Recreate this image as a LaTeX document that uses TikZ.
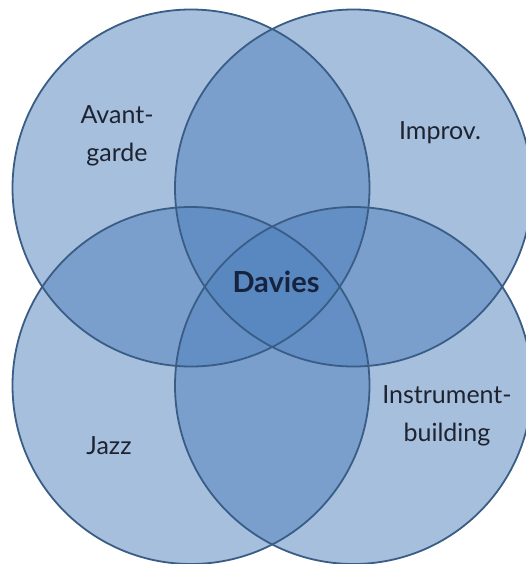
\documentclass[tikz,border=0pt]{standalone}
\usepackage{fontspec}
\setmainfont{Lato}
\definecolor{vennfill}{HTML}{4F81BD}
\definecolor{vennline}{HTML}{3A5D86}
\definecolor{labeltext}{HTML}{1E2330}
\definecolor{centertext}{HTML}{16233F}
\begin{document}
\begin{tikzpicture}[x=1pt,y=-1pt,
  vennset/.style={circle,inner sep=0pt,minimum size=357pt,fill=vennfill,fill opacity=0.5},
  vennedge/.style={draw=vennline,line width=1.8pt},
  setlabel/.style={text=labeltext,align=center,font=\fontsize{25}{38}\selectfont,inner sep=0pt},
  corelabel/.style={text=centertext,font=\fontsize{29}{34}\selectfont\bfseries,inner sep=0pt}]
\useasboundingbox (0,0) rectangle (525,564);
\fill[white] (0,0) rectangle (525,564);
\node[vennset] (tl) at (191,188) {};
\node[vennset] (tr) at (353.5,188) {};
\node[vennset] (bl) at (191,385.5) {};
\node[vennset] (br) at (353.5,385.5) {};
\foreach \n in {tl,tr,bl,br}
  \draw[vennedge] (\n.center) circle[radius=178.5pt];
\node[setlabel] (avant) at (117,136) {Avant-\\garde};
\node[setlabel,anchor=base] (improv) at (440,140) {Improv.};
\node[setlabel,anchor=base] (jazz) at (109,454) {Jazz};
\node[setlabel] (instr) at (447,416) {Instrument-\\building};
\node[corelabel,anchor=base] (davies) at (276,292) {Davies};
\end{tikzpicture}
\end{document}
